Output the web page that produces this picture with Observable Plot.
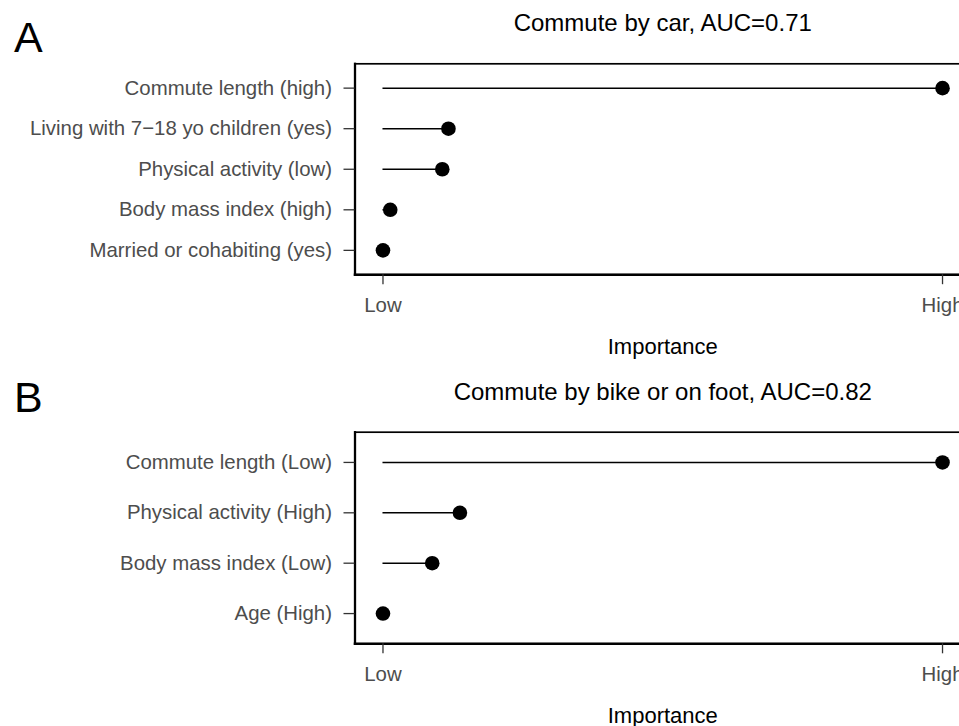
<!DOCTYPE html>
<html>
<head>
<meta charset="utf-8">
<script src="https://cdn.jsdelivr.net/npm/d3@7"></script>
<script src="https://cdn.jsdelivr.net/npm/@observablehq/plot@0.6"></script>
<style>
  html, body { margin: 0; padding: 0; background: #fff; overflow: hidden; width: 959px; height: 726px; }
  #chart { width: 990px; }
  #chart svg { display: block; max-width: none !important; }
</style>
</head>
<body>
<div id="chart"></div>
<script>
// ---- data ----
const carTitle = "Commute by car, AUC=0.71";
const carFactors = [
  "Commute length (high)",
  "Living with 7\u221218 yo children (yes)",
  "Physical activity (low)",
  "Body mass index (high)",
  "Married or cohabiting (yes)"
];
const carImportance = [1, 0.117, 0.106, 0.013, 0];

const bikeTitle = "Commute by bike or on foot, AUC=0.82";
const bikeFactors = [
  "Commute length (Low)",
  "Physical activity (High)",
  "Body mass index (Low)",
  "Age (High)"
];
const bikeImportance = [1, 0.1375, 0.088, 0];

const xTicks = [0, 1];
const xTickLabels = ["Low", "High"];
const axisTitle = "Importance";

const FONT = "Liberation Sans, Arial, Helvetica, sans-serif";

function panel(letter, title, factors, values, opts) {
  const data = factors.map((f, i) => ({factor: f, value: values[i]}));
  return Plot.plot({
    width: 990,
    height: opts.height,
    marginLeft: 354.5,
    marginRight: 20,
    marginTop: opts.marginTop,
    marginBottom: opts.marginBottom,
    style: {fontFamily: FONT, fontSize: "20px", background: "white", overflow: "visible", maxWidth: "none"},
    x: {domain: [-0.05, 1.05]},
    y: {type: "point", domain: factors, padding: 0.6, round: false},
    marks: [
      Plot.ruleY(data, {y: "factor", x1: 0, x2: "value", stroke: "black", strokeWidth: 1.5}),
      Plot.dot(data, {y: "factor", x: "value", r: 7.3, fill: "black", stroke: "none"}),
      Plot.frame({stroke: "black", strokeWidth: 1.7}),
      Plot.frame({anchor: "bottom", stroke: "black", strokeWidth: 2.5}),
      Plot.frame({anchor: "left", stroke: "black", strokeWidth: 2.3}),
      Plot.axisY({
        label: null, tickSize: 11, tickPadding: 12, fontSize: 20.4,
        stroke: "#333", fill: "#4d4d4d", strokeWidth: 1.3
      }),
      Plot.axisX({
        ticks: xTicks, tickFormat: (d) => xTickLabels[xTicks.indexOf(d)],
        label: null, tickSize: 10, tickPadding: 13, fontSize: 20.4,
        stroke: "#333", fill: "#4d4d4d", strokeWidth: 1.3
      }),
      Plot.text([title], {frameAnchor: "top", dy: opts.titleDy, text: (d) => d,
        fontSize: 24, fill: "black", lineAnchor: "middle"}),
      Plot.text([axisTitle], {frameAnchor: "bottom", dy: 72.5, text: (d) => d,
        fontSize: 22, fill: "black", lineAnchor: "middle"}),
      Plot.text([letter], {frameAnchor: "top-left", dx: opts.letterDx, dy: opts.letterDy, text: (d) => d,
        fontSize: 43, fill: "black", textAnchor: "start", lineAnchor: "middle"})
    ]
  });
}

const chart = document.getElementById("chart");
chart.appendChild(panel("A", carTitle, carFactors, carImportance,
  {height: 362, marginTop: 63.3, marginBottom: 362 - 274.2, titleDy: -40.5, letterDx: -341, letterDy: -26}));
chart.appendChild(panel("B", bikeTitle, bikeFactors, bikeImportance,
  {height: 364, marginTop: 431.7 - 362, marginBottom: 364 - (643.3 - 362), titleDy: -40, letterDx: -341, letterDy: -33.9}));
</script>
</body>
</html>
